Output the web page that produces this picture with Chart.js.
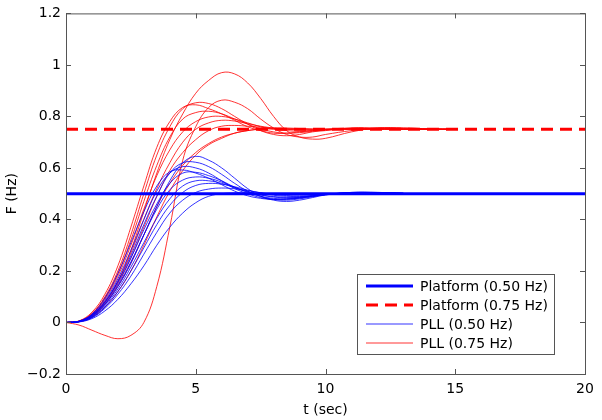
<!DOCTYPE html>
<html>
<head>
<meta charset="utf-8">
<script src="https://cdn.jsdelivr.net/npm/chart.js@4.4.1/dist/chart.umd.min.js"></script>
<style>
  html, body { margin: 0; padding: 0; background: #fff; }
</style>
</head>
<body>
<canvas id="chart" width="602" height="420"></canvas>
<script>
// time samples (sec)
const T = [0, 0.5, 1, 1.5, 2, 2.5, 3, 3.5, 4, 4.5, 5, 5.5, 6, 6.5, 7, 7.5, 8, 8.5, 9, 9.5, 10, 11, 12, 13, 14, 15];
const platformT = [0, 20];
const platform050 = [0.5, 0.5];
const platform075 = [0.75, 0.75];

// PLL responses, 0.75 Hz target
const pll075 = [
  [0, 0.005, 0.03, 0.08, 0.16, 0.28, 0.43, 0.58, 0.71, 0.81, 0.89, 0.94, 0.97, 0.965, 0.93, 0.87, 0.80, 0.745, 0.72, 0.712, 0.715, 0.74, 0.755, 0.755, 0.752, 0.75],
  [0, -0.01, -0.03, -0.05, -0.063, -0.05, 0.0, 0.14, 0.37, 0.63, 0.76, 0.835, 0.863, 0.855, 0.83, 0.79, 0.755, 0.73, 0.72, 0.72, 0.73, 0.745, 0.755, 0.755, 0.752, 0.75],
  [0, 0.005, 0.035, 0.1, 0.2, 0.34, 0.5, 0.65, 0.76, 0.83, 0.853, 0.85, 0.83, 0.8, 0.77, 0.745, 0.73, 0.725, 0.73, 0.74, 0.745, 0.755, 0.755, 0.752, 0.75, 0.75],
  [0, 0.006, 0.04, 0.11, 0.22, 0.37, 0.53, 0.68, 0.78, 0.835, 0.845, 0.83, 0.81, 0.785, 0.76, 0.745, 0.735, 0.735, 0.74, 0.745, 0.75, 0.755, 0.753, 0.75, 0.75, 0.75],
  [0, 0.004, 0.03, 0.09, 0.18, 0.3, 0.44, 0.57, 0.67, 0.74, 0.78, 0.798, 0.8, 0.79, 0.775, 0.76, 0.75, 0.745, 0.742, 0.745, 0.748, 0.752, 0.752, 0.751, 0.75, 0.75],
  [0, 0.004, 0.028, 0.08, 0.16, 0.27, 0.4, 0.52, 0.62, 0.7, 0.75, 0.775, 0.785, 0.782, 0.772, 0.762, 0.755, 0.75, 0.748, 0.748, 0.75, 0.752, 0.752, 0.751, 0.75, 0.75],
  [0, 0.003, 0.025, 0.075, 0.15, 0.25, 0.37, 0.49, 0.59, 0.66, 0.71, 0.745, 0.762, 0.765, 0.762, 0.758, 0.754, 0.75, 0.748, 0.748, 0.75, 0.751, 0.751, 0.75, 0.75, 0.75],
  [0, 0.003, 0.022, 0.07, 0.14, 0.23, 0.34, 0.45, 0.54, 0.61, 0.66, 0.695, 0.72, 0.735, 0.745, 0.75, 0.752, 0.753, 0.752, 0.751, 0.75, 0.75, 0.75, 0.75, 0.75, 0.75],
  [0, 0.005, 0.033, 0.095, 0.19, 0.32, 0.47, 0.61, 0.72, 0.79, 0.815, 0.82, 0.81, 0.79, 0.77, 0.752, 0.74, 0.735, 0.737, 0.742, 0.747, 0.753, 0.753, 0.751, 0.75, 0.75],
  [0, 0.003, 0.02, 0.06, 0.12, 0.2, 0.3, 0.41, 0.51, 0.59, 0.65, 0.69, 0.715, 0.735, 0.745, 0.752, 0.755, 0.755, 0.753, 0.751, 0.75, 0.75, 0.75, 0.75, 0.75, 0.75]
];

// PLL responses, 0.50 Hz target
const pll050 = [
  [0, 0.004, 0.025, 0.07, 0.14, 0.23, 0.34, 0.45, 0.55, 0.62, 0.645, 0.63, 0.6, 0.56, 0.52, 0.49, 0.475, 0.47, 0.475, 0.485, 0.495, 0.505, 0.505, 0.502],
  [0, 0.004, 0.028, 0.08, 0.16, 0.26, 0.38, 0.49, 0.58, 0.62, 0.622, 0.605, 0.575, 0.54, 0.51, 0.49, 0.478, 0.475, 0.48, 0.488, 0.496, 0.505, 0.505, 0.502],
  [0, 0.005, 0.03, 0.085, 0.17, 0.28, 0.4, 0.51, 0.58, 0.605, 0.6, 0.58, 0.55, 0.52, 0.5, 0.485, 0.478, 0.478, 0.483, 0.49, 0.497, 0.504, 0.504, 0.501],
  [0, 0.005, 0.033, 0.095, 0.19, 0.31, 0.43, 0.53, 0.585, 0.592, 0.58, 0.56, 0.535, 0.51, 0.492, 0.482, 0.478, 0.48, 0.485, 0.492, 0.498, 0.504, 0.503, 0.501],
  [0, 0.004, 0.027, 0.078, 0.155, 0.25, 0.36, 0.46, 0.54, 0.58, 0.583, 0.57, 0.55, 0.525, 0.505, 0.49, 0.482, 0.48, 0.483, 0.49, 0.497, 0.503, 0.503, 0.501],
  [0, 0.004, 0.025, 0.072, 0.145, 0.235, 0.34, 0.44, 0.515, 0.553, 0.565, 0.56, 0.545, 0.525, 0.508, 0.495, 0.487, 0.484, 0.486, 0.491, 0.497, 0.503, 0.503, 0.501],
  [0, 0.003, 0.022, 0.065, 0.13, 0.215, 0.31, 0.405, 0.48, 0.53, 0.55, 0.55, 0.54, 0.523, 0.508, 0.496, 0.489, 0.486, 0.487, 0.491, 0.497, 0.502, 0.503, 0.501],
  [0, 0.003, 0.02, 0.06, 0.12, 0.2, 0.29, 0.38, 0.455, 0.505, 0.532, 0.54, 0.537, 0.527, 0.514, 0.503, 0.494, 0.49, 0.489, 0.491, 0.496, 0.502, 0.502, 0.501],
  [0, 0.003, 0.018, 0.055, 0.11, 0.18, 0.265, 0.35, 0.425, 0.475, 0.505, 0.518, 0.522, 0.519, 0.512, 0.504, 0.497, 0.493, 0.492, 0.493, 0.497, 0.501, 0.502, 0.501],
  [0, 0.002, 0.015, 0.045, 0.09, 0.15, 0.22, 0.3, 0.37, 0.425, 0.465, 0.49, 0.5, 0.503, 0.503, 0.501, 0.499, 0.497, 0.496, 0.496, 0.498, 0.5, 0.501, 0.5]
];

const yTicks = [-0.2, 0, 0.2, 0.4, 0.6, 0.8, 1, 1.2];
const xTicks = [0, 5, 10, 15, 20];

const FONT = '"DejaVu Sans", "Liberation Sans", sans-serif';

function pts(xs, ys) {
  return ys.map((v, i) => ({ x: xs[i], y: v }));
}

const datasets = [
  { label: 'Platform (0.50 Hz)', data: pts(platformT, platform050), borderColor: '#0000ff', borderWidth: 3 },
  { label: 'Platform (0.75 Hz)', data: pts(platformT, platform075), borderColor: '#ff0000', borderWidth: 3, borderDash: [12, 7] }
];
pll050.forEach((s) => datasets.push({ label: 'PLL (0.50 Hz)', data: pts(T, s), borderColor: 'rgba(0,0,255,0.8)', borderWidth: 1, tension: 0.4 }));
pll075.forEach((s) => datasets.push({ label: 'PLL (0.75 Hz)', data: pts(T, s), borderColor: 'rgba(255,0,0,0.8)', borderWidth: 1, tension: 0.4 }));

// box, inward ticks and legend, drawn MATLAB style
const frame = {
  id: 'frame',
  afterDraw(chart) {
    const ctx = chart.ctx;
    const a = chart.chartArea;
    const sx = chart.scales.x, sy = chart.scales.y;
    ctx.save();
    ctx.strokeStyle = '#555';
    ctx.lineWidth = 1;
    ctx.strokeRect(a.left + 0.5, a.top + 0.5, a.right - a.left, a.bottom - a.top);
    ctx.beginPath();
    yTicks.forEach((v) => {
      const y = Math.round(sy.getPixelForValue(v)) + 0.5;
      ctx.moveTo(a.left, y); ctx.lineTo(a.left + 5, y);
      ctx.moveTo(a.right, y); ctx.lineTo(a.right - 5, y);
    });
    xTicks.forEach((v) => {
      const x = Math.round(sx.getPixelForValue(v)) + 0.5;
      ctx.moveTo(x, a.bottom); ctx.lineTo(x, a.bottom - 5);
      ctx.moveTo(x, a.top); ctx.lineTo(x, a.top + 5);
    });
    ctx.stroke();

    // legend
    const lx = 357, ly = 274, lw = 197, lh = 80;
    ctx.fillStyle = '#fff';
    ctx.fillRect(lx, ly, lw, lh);
    ctx.strokeStyle = '#555';
    ctx.strokeRect(lx + 0.5, ly + 0.5, lw, lh);
    const items = [datasets[0], datasets[1], datasets[2], datasets[2 + pll050.length]];
    ctx.font = '14px ' + FONT;
    ctx.textBaseline = 'middle';
    items.forEach((d, i) => {
      const y = ly + 12 + i * 19;
      ctx.strokeStyle = d.borderColor;
      ctx.lineWidth = d.borderWidth;
      ctx.setLineDash(d.borderDash || []);
      ctx.beginPath();
      ctx.moveTo(366, y); ctx.lineTo(413, y);
      ctx.stroke();
      ctx.setLineDash([]);
      ctx.fillStyle = '#000';
      ctx.fillText(d.label, 420, y + 1);
    });
    ctx.restore();
  }
};

new Chart(document.getElementById('chart'), {
  type: 'line',
  data: { datasets: datasets },
  options: {
    responsive: false,
    animation: false,
    layout: { padding: { top: 12, right: 17, left: 0, bottom: 0 } },
    elements: { point: { radius: 0 } },
    plugins: { legend: { display: false }, tooltip: { enabled: false } },
    scales: {
      x: {
        type: 'linear', min: 0, max: 20,
        grid: { display: false, drawTicks: false },
        border: { display: false },
        ticks: { stepSize: 5, padding: 7, color: '#000', font: { family: FONT, size: 14 } },
        title: { display: true, text: 't (sec)', color: '#000', font: { family: FONT, size: 14 }, padding: { top: 0, bottom: 1 } },
        afterFit: (s) => { s.height = 46; }
      },
      y: {
        min: -0.2, max: 1.2,
        grid: { display: false, drawTicks: false },
        border: { display: false },
        ticks: {
          stepSize: 0.2, padding: 5, color: '#000', font: { family: FONT, size: 14 },
          callback: (v) => String(Number(v.toFixed(1))).replace('-', '\u2212')
        },
        title: { display: true, text: 'F (Hz)', color: '#000', font: { family: FONT, size: 14 }, padding: { top: 4, bottom: 0 } },
        afterFit: (s) => { s.width = 66; }
      }
    }
  },
  plugins: [frame]
});
</script>
</body>
</html>
